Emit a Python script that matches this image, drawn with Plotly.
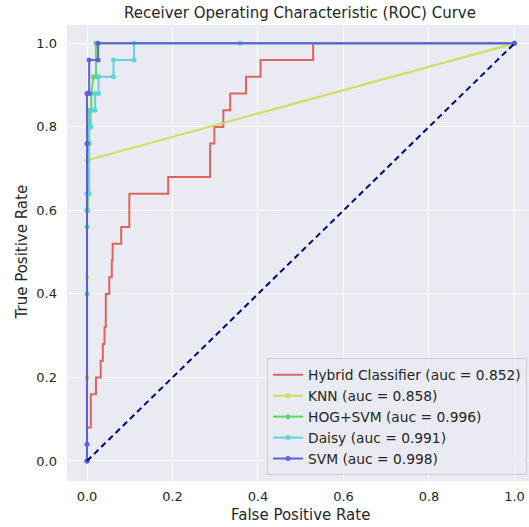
import plotly.graph_objects as go

# ---- data ----
hybrid_fpr = [0.0, 0.0, 0.009, 0.009, 0.021, 0.021, 0.032, 0.032, 0.037, 0.037, 0.041, 0.041,
              0.044, 0.044, 0.052, 0.052, 0.058, 0.058, 0.060, 0.060, 0.080, 0.080, 0.099, 0.099,
              0.190, 0.190, 0.288, 0.288, 0.298, 0.298, 0.319, 0.319, 0.335, 0.335, 0.372, 0.372,
              0.406, 0.406, 0.529, 0.529, 1.0]
hybrid_tpr = [0.0, 0.08, 0.08, 0.16, 0.16, 0.20, 0.20, 0.24, 0.24, 0.28, 0.28, 0.32,
              0.32, 0.40, 0.40, 0.44, 0.44, 0.48, 0.48, 0.52, 0.52, 0.56, 0.56, 0.64,
              0.64, 0.68, 0.68, 0.76, 0.76, 0.80, 0.80, 0.84, 0.84, 0.88, 0.88, 0.92,
              0.92, 0.96, 0.96, 1.0, 1.0]

knn_fpr = [0.0, 0.0, 0.0, 0.0, 1.0]
knn_tpr = [0.0, 0.20, 0.44, 0.72, 1.0]

hog_fpr = [0.0, 0.0, 0.0, 0.0, 0.002, 0.002, 0.005, 0.005, 0.010, 0.010, 0.015, 0.021, 0.021, 1.0]
hog_tpr = [0.0, 0.40, 0.56, 0.60, 0.60, 0.76, 0.76, 0.84, 0.84, 0.88, 0.92, 0.92, 1.0, 1.0]

daisy_fpr = [0.0, 0.0, 0.0, 0.005, 0.005, 0.009, 0.009, 0.019, 0.019, 0.027, 0.027, 0.062,
             0.062, 0.110, 0.110, 0.358, 1.0]
daisy_tpr = [0.0, 0.60, 0.64, 0.64, 0.80, 0.80, 0.84, 0.84, 0.88, 0.88, 0.92, 0.92,
             0.96, 0.96, 1.0, 1.0, 1.0]

svm_fpr = [0.0, 0.0, 0.0, 0.0, 0.005, 0.005, 0.026, 0.026, 1.0]
svm_tpr = [0.0, 0.04, 0.76, 0.88, 0.88, 0.96, 0.96, 1.0, 1.0]

chance = [0.0, 1.0]

names = ["Hybrid Classifier (auc = 0.852)", "KNN (auc = 0.858)", "HOG+SVM (auc = 0.996)",
         "Daisy (auc = 0.991)", "SVM (auc = 0.998)"]
colors = ["#db5f57", "#d3db57", "#57db5f", "#57d3db", "#5f57db"]
ticks = [0.0, 0.2, 0.4, 0.6, 0.8, 1.0]
tick_text = ["0.0", "0.2", "0.4", "0.6", "0.8", "1.0"]

FONT = "DejaVu Sans"
TXT = "#262626"

fig = go.Figure()
series = [(hybrid_fpr, hybrid_tpr, "lines"), (knn_fpr, knn_tpr, "lines+markers"),
          (hog_fpr, hog_tpr, "lines+markers"), (daisy_fpr, daisy_tpr, "lines+markers"),
          (svm_fpr, svm_tpr, "lines+markers")]
for (xs, ys, mode), name, c in zip(series, names, colors):
    fig.add_trace(go.Scatter(x=xs, y=ys, mode=mode, name=name,
                             line=dict(color=c, width=2),
                             marker=dict(color=c, size=5),
                             opacity=0.95))
fig.add_trace(go.Scatter(x=chance, y=chance, mode="lines", showlegend=False,
                         line=dict(color="navy", width=2, dash="6px,4px")))

W, H = 529, 527
L, R, T, B = 66.7, 0, 25, 46.3
pw, ph = W - L - R, H - T - B
fig.update_layout(
    width=W, height=H,
    margin=dict(l=L, r=R, t=T, b=B, pad=0, autoexpand=False),
    paper_bgcolor="white", plot_bgcolor="#EAEAF2",
    font=dict(family=FONT, color=TXT, size=13),
    title=dict(text="Receiver Operating Characteristic (ROC) Curve", x=300 / W, xref="container",
               xanchor="center", y=1 - 13 / H, yref="container", yanchor="middle",
               font=dict(size=15, family=FONT, color=TXT)),
    xaxis=dict(range=[-0.0468, 1.034], tickvals=ticks, ticktext=tick_text, showgrid=True,
               gridcolor="white", gridwidth=1, zeroline=False, showline=False,
               tickfont=dict(size=13, family=FONT, color=TXT), ticks="", automargin=False,
               ticklabelstandoff=6),
    yaxis=dict(range=[-0.048, 1.044], tickvals=ticks, ticktext=tick_text, showgrid=True,
               gridcolor="white", gridwidth=1, zeroline=False, showline=False,
               tickfont=dict(size=13, family=FONT, color=TXT), ticks="", automargin=False,
               ticklabelstandoff=9),
    legend=dict(x=(527 - L) / pw, xanchor="right", y=(H - B - 475) / ph, yanchor="bottom",
                bgcolor="rgba(234,234,242,0.8)", bordercolor="#cccccc", borderwidth=1,
                font=dict(size=13.8, family=FONT, color=TXT), tracegroupgap=0, itemwidth=30),
    annotations=[
        dict(text="False Positive Rate", x=(300 - L) / pw, y=(H - B - 515) / ph,
             xref="paper", yref="paper", xanchor="center", yanchor="middle", showarrow=False,
             font=dict(size=15, family=FONT, color=TXT)),
        dict(text="True Positive Rate", x=(22 - L) / pw, y=(H - B - 252) / ph,
             xref="paper", yref="paper", xanchor="center", yanchor="middle", showarrow=False,
             textangle=-90, font=dict(size=15, family=FONT, color=TXT)),
    ],
)

fig.write_html("out.html", config={"displayModeBar": False},
               post_script="document.body.style.margin='0px';document.body.style.overflow='hidden';")
